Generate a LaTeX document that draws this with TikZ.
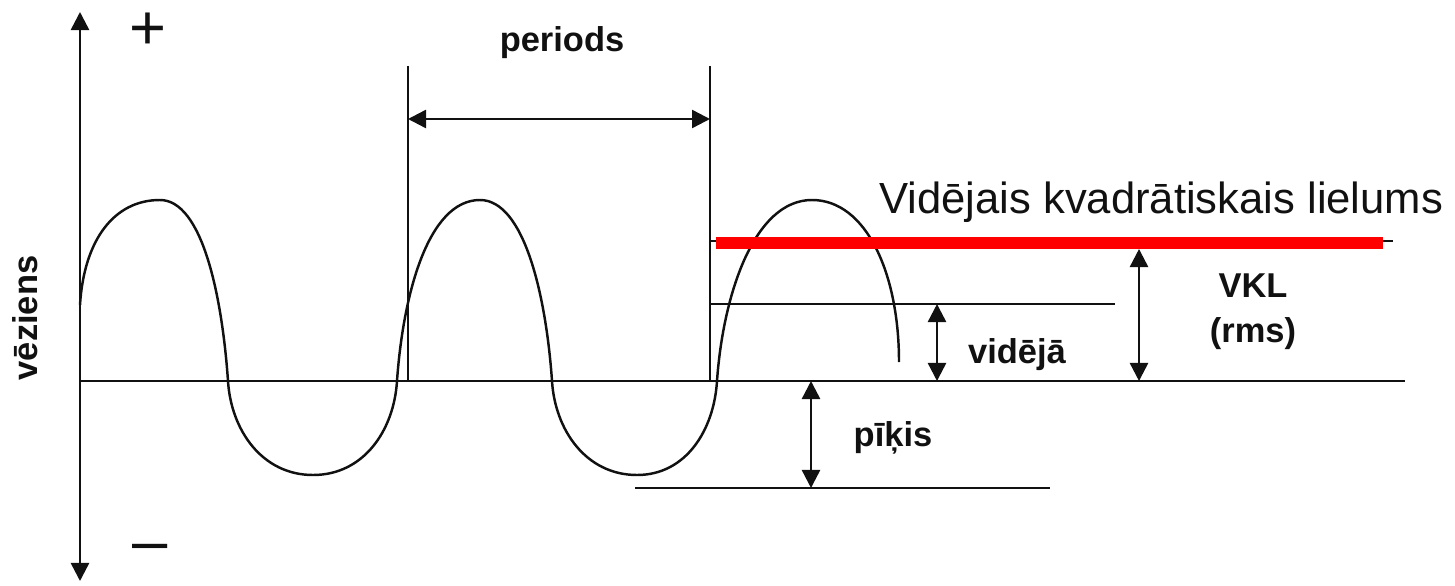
\documentclass[tikz,border=0pt]{standalone}
\usepackage{fontspec}
\setmainfont{Liberation Sans}
\usetikzlibrary{arrows.meta}
\definecolor{cred}{HTML}{FF0000}
\definecolor{cink}{HTML}{111111}
\tikzset{
  every picture/.style={line width=0.7pt, draw=cink, x=0.01cm, y=-0.01cm},
  dimarrow/.style={{Triangle[length=1.8mm, width=1.8mm]}-{Triangle[length=1.8mm, width=1.8mm]}, draw=cink},
  lbl/.style={font=\fontsize{9.8}{12.8}\selectfont\bfseries, text=cink, align=center, inner sep=0pt},
  sign/.style={font=\fontsize{18}{20}\selectfont, text=cink, inner sep=0pt},
  rmsline/.style={draw=cred, line width=3.4pt},
}

\begin{document}
\begin{tikzpicture}
  \useasboundingbox (0,0) rectangle (1455,585);
  % axes
  \coordinate (ytop) at (80,12);
  \coordinate (ybot) at (80,581);
  \coordinate (x0) at (80,381);
  \coordinate (x1) at (1405,381);
  \draw[dimarrow] (ytop) -- (ybot);
  \draw (x0) -- (x1);
  \node[sign] (plus) at (148,31) {+};
  \node[sign] (minus) at (150,553) {–};
  \node[lbl, rotate=90] (vez) at (25,318) {vēziens};
  % wave
  \draw (80,305) .. controls (84,240) and (114,200) .. (160,200)
    .. controls (202,200) and (222,295) .. (228,381)
    .. controls (231,430) and (262,475) .. (313,475)
    .. controls (364,475) and (394,430) .. (397,381)
    .. controls (403,295) and (428,200) .. (480,200)
    .. controls (524,200) and (546,295) .. (552,381)
    .. controls (555,430) and (586,475) .. (637,475)
    .. controls (686,475) and (714,430) .. (717,381)
    .. controls (723,295) and (754,200) .. (812,200)
    .. controls (866,200) and (899,273) .. (899,362);
  % period
  \coordinate (p1top) at (408,66);
  \coordinate (p1bot) at (408,381);
  \coordinate (p2top) at (710,66);
  \coordinate (p2bot) at (710,381);
  \draw (p1top) -- (p1bot);
  \draw (p2top) -- (p2bot);
  \coordinate (pl) at (408,119);
  \coordinate (pr) at (710,119);
  \draw[dimarrow] (pl) -- (pr);
  \node[lbl] (periods) at (562,43) {periods};
  % rms level
  \coordinate (rmsa) at (710,241);
  \coordinate (rmsb) at (1393,241);
  \draw (rmsa) -- (rmsb);
  \coordinate (reda) at (716,243);
  \coordinate (redb) at (1383,243);
  \draw[rmsline] (reda) -- (redb);
  \node[anchor=base west, inner sep=0pt, font=\fontsize{12.4}{14}\selectfont, text=cink] (title) at (878,213) {Vidējais kvadrātiskais lielums};
  \coordinate (vkltop) at (1139,249);
  \coordinate (vklbot) at (1139,381);
  \draw[dimarrow] (vkltop) -- (vklbot);
  \node[lbl] (vkl) at (1253,312) {VKL\\(rms)};
  % average level
  \coordinate (avga) at (710,304);
  \coordinate (avgb) at (1115,304);
  \draw (avga) -- (avgb);
  \coordinate (avgtop) at (937,304);
  \coordinate (avgbot) at (937,381);
  \draw[dimarrow] (avgtop) -- (avgbot);
  \node[lbl] (avg) at (1017,355) {vidējā};
  % peak level
  \coordinate (pka) at (635,488);
  \coordinate (pkb) at (1050,488);
  \draw (pka) -- (pkb);
  \coordinate (pktop) at (811,381);
  \coordinate (pkbot) at (811,488);
  \draw[dimarrow] (pktop) -- (pkbot);
  \node[lbl] (pk) at (893,438) {pīķis};
\end{tikzpicture}
\end{document}
